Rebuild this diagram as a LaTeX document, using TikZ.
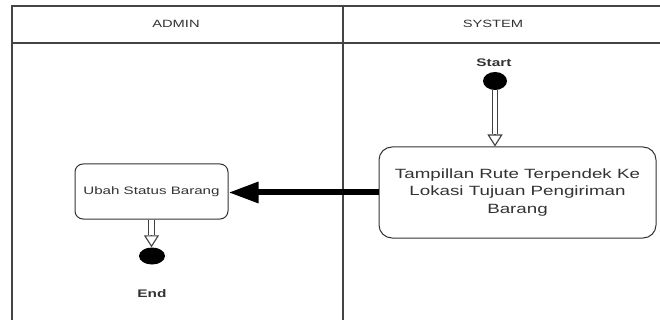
\documentclass[tikz,border=0pt]{standalone}
\usepackage{fontspec}
\setmainfont{Liberation Sans}
\usepackage{graphicx}
\usetikzlibrary{arrows.meta,shapes.geometric}
% text in this diagram is set wide
\newcommand{\widetext}[1]{\scalebox{1.4}[1]{#1}}
\definecolor{ink}{HTML}{333333}
\definecolor{laneline}{HTML}{444444}
\begin{document}
\begin{tikzpicture}[x=1pt,y=-1pt,
  lane/.style={draw=laneline,line width=1.1pt},
  action/.style={draw=black!80,line width=1pt,fill=white,text=ink,align=center,inner sep=0pt},
  dot/.style={ellipse,fill=black,inner sep=0pt},
  caption/.style={text=ink,inner sep=0pt},
  flow/.style={draw=black!75,line width=1.2pt,double=white,double distance=4.5pt,shorten >=12pt},
  flowhead/.style={draw=black!75,line width=1.1pt,-{Triangle[open,length=12pt,width=15pt]}},
  handover/.style={draw=black,line width=6pt,-{Triangle[length=30pt,width=20pt]}},
]
\useasboundingbox (0,0) rectangle (660,320);

% swimlanes
\draw[lane] (12,320) -- (12,6) -- (660,6);
\draw[lane] (12,43) -- (660,43);
\draw[lane] (343,6) -- (343,320);
\node[caption,font=\fontsize{10.5}{12}\selectfont] (hadmin) at (176,24) {\widetext{ADMIN}};
\node[caption,font=\fontsize{10.5}{12}\selectfont] (hsystem) at (493,24) {\widetext{SYSTEM}};

% system lane
\node[caption,font=\bfseries\fontsize{11}{13}\selectfont] (startlbl) at (494,63) {\widetext{Start}};
\node[dot,minimum width=24pt,minimum height=18pt] (start) at (495,81) {};
\node[action,rounded corners=13pt,minimum width=277pt,minimum height=91pt,
      font=\fontsize{13.4}{17.5}\selectfont] (route) at (517.5,192.5)
  {\widetext{Tampillan Rute Terpendek Ke}\\\widetext{Lokasi Tujuan Pengiriman}\\\widetext{Barang}};

% admin lane
\node[action,rounded corners=8pt,minimum width=153pt,minimum height=55pt,
      font=\fontsize{10.8}{13}\selectfont] (update) at (151.5,191.5) {\widetext{Ubah Status Barang}};
\node[dot,minimum width=26pt,minimum height=17pt] (finish) at (152,256) {};
\node[caption,font=\bfseries\fontsize{11}{13}\selectfont] (endlbl) at (152,294) {\widetext{End}};

% connectors
\coordinate (routein) at (start.south |- route.north);
\draw[flow] (start.south) -- (routein);
\draw[flowhead] ([yshift=12pt]routein) -- (routein);

\draw[handover] (route.west) -- (route.west -| update.east);

\coordinate (finishin) at (update.south |- finish.north);
\draw[flow] (update.south) -- (finishin);
\draw[flowhead] ([yshift=12pt]finishin) -- (finishin);
\end{tikzpicture}
\end{document}
